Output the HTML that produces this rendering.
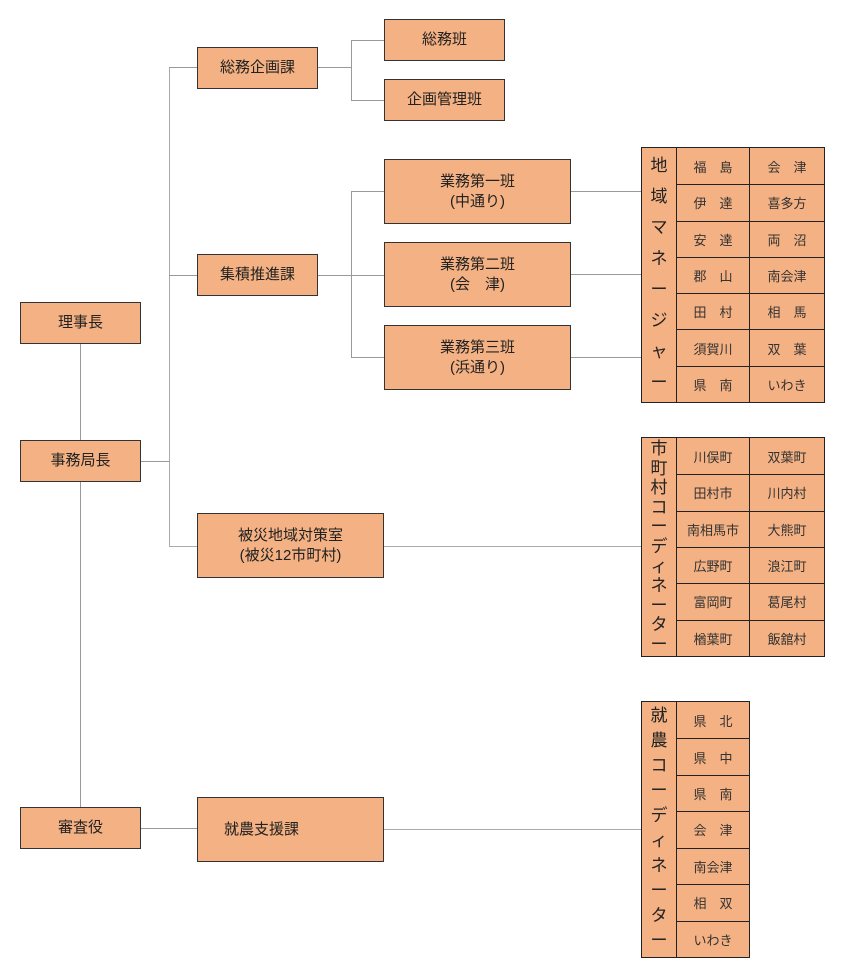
<!DOCTYPE html>
<html><head><meta charset="utf-8"><style>
body{margin:0;width:847px;height:975px;background:#fff;position:relative;overflow:hidden;font-family:"Liberation Sans","Noto Sans CJK JP",sans-serif;color:#222}
.b{position:absolute;background:#F4B183;border:1px solid #333;box-sizing:border-box;display:flex;align-items:center;justify-content:center;text-align:center;font-size:15px;line-height:20px}
.h{position:absolute;height:1px;background:#999}
.v{position:absolute;width:1px;background:#999}
.t{position:absolute;background:#F4B183;border:1px solid #222;box-sizing:border-box;display:grid;overflow:hidden}
.t div{border-left:1px solid #222;border-top:1px solid #222;display:flex;align-items:center;justify-content:center;font-size:13px;color:#333;white-space:nowrap}
.t div.l{border:none;display:block;text-align:center;font-size:17px;color:#222;overflow:hidden}
</style></head><body>
<div class="v" style="left:80px;top:344px;height:463px"></div>
<div class="h" style="left:140px;top:461px;width:29px"></div>
<div class="v" style="left:169px;top:67px;height:480px;background:#aaa"></div>
<div class="h" style="left:169px;top:67px;width:28px"></div>
<div class="h" style="left:169px;top:275px;width:28px"></div>
<div class="h" style="left:169px;top:546px;width:28px;background:#aaa"></div>
<div class="h" style="left:140px;top:828px;width:57px"></div>
<div class="h" style="left:318px;top:67px;width:33px"></div>
<div class="v" style="left:351px;top:40px;height:60px"></div>
<div class="h" style="left:351px;top:40px;width:33px"></div>
<div class="h" style="left:351px;top:100px;width:33px"></div>
<div class="h" style="left:318px;top:275px;width:66px"></div>
<div class="v" style="left:351px;top:191px;height:166px"></div>
<div class="h" style="left:351px;top:191px;width:33px"></div>
<div class="h" style="left:351px;top:357px;width:33px"></div>
<div class="h" style="left:571px;top:191px;width:70px"></div>
<div class="h" style="left:571px;top:274px;width:70px"></div>
<div class="h" style="left:571px;top:357px;width:70px"></div>
<div class="h" style="left:384px;top:546px;width:257px;background:#aaa"></div>
<div class="h" style="left:384px;top:829px;width:257px;background:#aaa"></div>

<div class="b" style="left:20px;top:302px;width:121px;height:42px">理事長</div>
<div class="b" style="left:20px;top:440px;width:121px;height:42px">事務局長</div>
<div class="b" style="left:20px;top:807px;width:121px;height:42px">審査役</div>
<div class="b" style="left:197px;top:47px;width:121px;height:42px">総務企画課</div>
<div class="b" style="left:197px;top:254px;width:121px;height:42px">集積推進課</div>
<div class="b" style="left:197px;top:513px;width:187px;height:65px">被災地域対策室<br>(被災12市町村)</div>
<div class="b" style="left:197px;top:797px;width:187px;height:65px;justify-content:flex-start;padding-left:26px">就農支援課</div>
<div class="b" style="left:384px;top:19px;width:121px;height:42px">総務班</div>
<div class="b" style="left:384px;top:79px;width:121px;height:42px">企画管理班</div>
<div class="b" style="left:384px;top:159px;width:187px;height:65px">業務第一班<br>(中通り)</div>
<div class="b" style="left:384px;top:242px;width:187px;height:65px">業務第二班<br>(会　津)</div>
<div class="b" style="left:384px;top:325px;width:187px;height:65px">業務第三班<br>(浜通り)</div>

<div class="t" style="left:641px;top:147px;width:184px;height:256px;grid-template-columns:34px 73px 75px;grid-template-rows:repeat(7,1fr)">
<div class="l" style="grid-row:1/8;line-height:31px;padding-top:2px">地<br>域<br>マ<br>ネ<br>ー<br>ジ<br>ャ<br>ー</div>
<div style="border-top:none">福　島</div><div style="border-top:none">会　津</div>
<div>伊　達</div><div>喜多方</div>
<div>安　達</div><div>両　沼</div>
<div>郡　山</div><div>南会津</div>
<div>田　村</div><div>相　馬</div>
<div>須賀川</div><div>双　葉</div>
<div>県　南</div><div>いわき</div>
</div>
<div class="t" style="left:641px;top:437px;width:184px;height:220px;grid-template-columns:34px 73px 75px;grid-template-rows:repeat(6,1fr)">
<div class="l" style="grid-row:1/7;line-height:19.6px;padding-top:1px">市<br>町<br>村<br>コ<br>ー<br>デ<br>ィ<br>ネ<br>ー<br>タ<br>ー</div>
<div style="border-top:none">川俣町</div><div style="border-top:none">双葉町</div>
<div>田村市</div><div>川内村</div>
<div>南相馬市</div><div>大熊町</div>
<div>広野町</div><div>浪江町</div>
<div>富岡町</div><div>葛尾村</div>
<div>楢葉町</div><div>飯舘村</div>
</div>
<div class="t" style="left:641px;top:701px;width:109px;height:257px;grid-template-columns:34px 73px;grid-template-rows:repeat(7,1fr)">
<div class="l" style="grid-row:1/8;line-height:25px;padding-top:1px">就<br>農<br>コ<br>ー<br>デ<br>ィ<br>ネ<br>ー<br>タ<br>ー</div>
<div style="border-top:none">県　北</div>
<div>県　中</div>
<div>県　南</div>
<div>会　津</div>
<div>南会津</div>
<div>相　双</div>
<div>いわき</div>
</div>
</body></html>
